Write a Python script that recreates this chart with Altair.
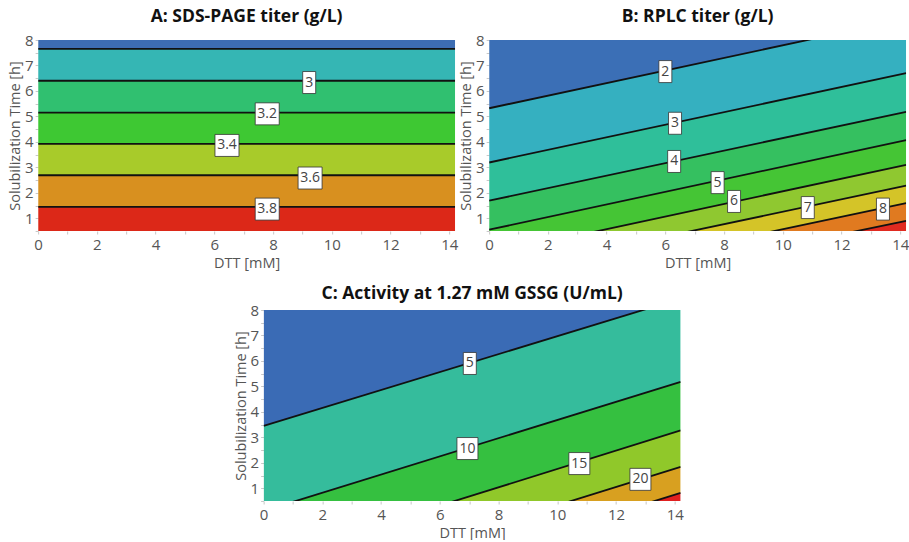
import altair as alt
import pandas as pd

FONT = "Open Sans"

# Shared axis ranges and ticks
X_DOMAIN = [0, 14.2]
Y_DOMAIN = [0.5, 8]
X_TICKS = list(range(0, 15))
Y_TICKS = [0.5, 1, 1.5, 2, 2.5, 3, 3.5, 4, 4.5, 5, 5.5, 6, 6.5, 7, 7.5, 8]
X_TITLE = "DTT [mM]"
Y_TITLE = "Solubilization Time [h]"

# ---------------- Panel A ----------------
A_TITLE = "A: SDS-PAGE titer (g/L)"
A_LEVELS = [2.8, 3.0, 3.2, 3.4, 3.6, 3.8]
A_LINE_Y_AT_XMIN = [7.65, 6.40, 5.15, 3.92, 2.69, 1.45]
A_LINE_Y_AT_XMAX = [7.65, 6.40, 5.15, 3.92, 2.69, 1.45]
A_BAND_COLORS = ["#3d6db3", "#35b6b4", "#30c070", "#3ec833", "#a8cb2a", "#d8901f", "#dc2818"]
A_LABEL_TEXT = ["3", "3.2", "3.4", "3.6", "3.8"]
A_LABEL_X = [9.23, 7.80, 6.43, 9.26, 7.80]
A_LABEL_Y = [6.33, 5.10, 3.86, 2.58, 1.36]

# ---------------- Panel B ----------------
B_TITLE = "B: RPLC titer (g/L)"
B_LEVELS = [2, 3, 4, 5, 6, 7, 8, 9]
B_LINE_Y_AT_XMIN = [5.32, 3.19, 1.69, 0.55, -0.42, -1.18, -1.86, -2.50]
B_LINE_Y_AT_XMAX = [8.83, 6.70, 5.18, 4.07, 3.10, 2.28, 1.59, 0.90]
B_BAND_COLORS = ["#3b6fb6", "#35b0c0", "#2fbf9a", "#35c060", "#45c535", "#8fc830", "#d4c428", "#e07a20", "#e02a20"]
B_LABEL_TEXT = ["2", "3", "4", "5", "6", "7", "8"]
B_LABEL_X = [6.00, 6.33, 6.30, 7.78, 8.34, 10.85, 13.41]
B_LABEL_Y = [6.76, 4.73, 3.23, 2.40, 1.66, 1.42, 1.36]

# ---------------- Panel C ----------------
C_TITLE = "C: Activity at 1.27 mM GSSG (U/mL)"
C_LEVELS = [5, 10, 15, 20, 25]
C_LINE_Y_AT_XMIN = [3.45, 0.11, -1.84, -3.26, -4.31]
C_LINE_Y_AT_XMAX = [8.45, 5.18, 3.27, 1.84, 0.82]
C_BAND_COLORS = ["#3a6bb5", "#35bc9c", "#35c040", "#90c82a", "#d8a020", "#e02020"]
C_LABEL_TEXT = ["5", "10", "15", "20"]
C_LABEL_X = [7.02, 6.94, 10.75, 12.83]
C_LABEL_Y = [5.90, 2.56, 1.97, 1.35]

PANEL_W = 417
PANEL_H = 191
BOX_W = {1: 13, 2: 21, 3: 24}

AXIS_STYLE = dict(
    grid=False, domain=False, labelFont=FONT, labelFontSize=15, labelColor="#555555",
    titleFont=FONT, titleFontSize=14.5, titleFontWeight="normal", titleColor="#555555",
    tickColor="#c8c8c8", tickSize=3,
    labelOverlap=False, labelFlush=False,
)


def band_frame(y_lo_x, y_hi_x):
    uppers = [(Y_DOMAIN[1], Y_DOMAIN[1])] + list(zip(y_lo_x, y_hi_x))
    lowers = list(zip(y_lo_x, y_hi_x)) + [(Y_DOMAIN[0], Y_DOMAIN[0])]
    rows = []
    for k, (u, l) in enumerate(zip(uppers, lowers)):
        rows.append({"band": f"b{k}", "x": X_DOMAIN[0], "upper": u[0], "lower": l[0]})
        rows.append({"band": f"b{k}", "x": X_DOMAIN[1], "upper": u[1], "lower": l[1]})
    return pd.DataFrame(rows)


def line_frame(levels, y_lo_x, y_hi_x):
    rows = []
    for lv, a, b in zip(levels, y_lo_x, y_hi_x):
        rows.append({"level": str(lv), "x": X_DOMAIN[0], "y": a})
        rows.append({"level": str(lv), "x": X_DOMAIN[1], "y": b})
    return pd.DataFrame(rows)


def panel(title, levels, y0, y1, colors, ltext, lx, ly, title_offset):
    xs = alt.Scale(domain=X_DOMAIN, nice=False, zero=False)
    ys = alt.Scale(domain=Y_DOMAIN, nice=False, zero=False)
    xaxis = alt.Axis(values=X_TICKS, labelExpr="datum.value % 2 == 0 ? datum.label : ''",
                     title=X_TITLE, labelPadding=3, titlePadding=4, **AXIS_STYLE)
    yaxis = alt.Axis(values=Y_TICKS,
                     labelExpr="datum.value == floor(datum.value) ? format(datum.value, 'd') : ''",
                     title=Y_TITLE, labelPadding=2, titlePadding=2, **AXIS_STYLE)
    X = lambda f: alt.X(f, scale=xs, axis=xaxis)
    Y = lambda f: alt.Y(f, scale=ys, axis=yaxis)
    bdf = band_frame(y0, y1)
    bands = alt.Chart(bdf).mark_area(clip=True, strokeWidth=0).encode(
        x=X("x:Q"),
        y=Y("upper:Q"),
        y2="lower:Q",
        color=alt.Color("band:N", scale=alt.Scale(domain=[f"b{k}" for k in range(len(colors))],
                                                  range=colors), legend=None),
    )
    lines = alt.Chart(line_frame(levels, y0, y1)).mark_line(
        clip=True, color="#111111", strokeWidth=1.8).encode(
        x=X("x:Q"), y=Y("y:Q"), detail="level:N")
    ldf = pd.DataFrame({"text": ltext, "x": lx, "y": ly})
    layers = [bands, lines]
    for n, w in BOX_W.items():
        layers.append(
            alt.Chart(ldf).transform_filter(f"length(datum.text) == {n}").mark_rect(
                width=w, height=22, fill="white", stroke="#333333", strokeWidth=0.8
            ).encode(x=X("x:Q"), y=Y("y:Q"))
        )
    layers.append(
        alt.Chart(ldf).mark_text(font=FONT, fontSize=14, color="#444444").encode(
            x=X("x:Q"), y=Y("y:Q"), text="text:N")
    )
    return alt.layer(*layers).properties(
        width=PANEL_W, height=PANEL_H,
        title=alt.TitleParams(title, font=FONT, fontSize=17.5, fontWeight="bold",
                              color="#111111", offset=title_offset),
    ).resolve_scale(color="independent")


pa = panel(A_TITLE, A_LEVELS, A_LINE_Y_AT_XMIN, A_LINE_Y_AT_XMAX, A_BAND_COLORS,
           A_LABEL_TEXT, A_LABEL_X, A_LABEL_Y, 8)
pb = panel(B_TITLE, B_LEVELS, B_LINE_Y_AT_XMIN, B_LINE_Y_AT_XMAX, B_BAND_COLORS,
           B_LABEL_TEXT, B_LABEL_X, B_LABEL_Y, 8)
pc = panel(C_TITLE, C_LEVELS, C_LINE_Y_AT_XMIN, C_LINE_Y_AT_XMAX, C_BAND_COLORS,
           C_LABEL_TEXT, C_LABEL_X, C_LABEL_Y, 1)

top = alt.hconcat(pa, pb, spacing=0).resolve_scale(color="independent")
chart = alt.vconcat(top, pc, spacing=14, center=True).resolve_scale(
    color="independent"
).properties(
    padding={"left": 7, "top": 7, "right": 0, "bottom": 0},
    background="white",
).configure_view(stroke=None)

chart.save("out.html", embed_options={"renderer": "svg", "actions": False})
